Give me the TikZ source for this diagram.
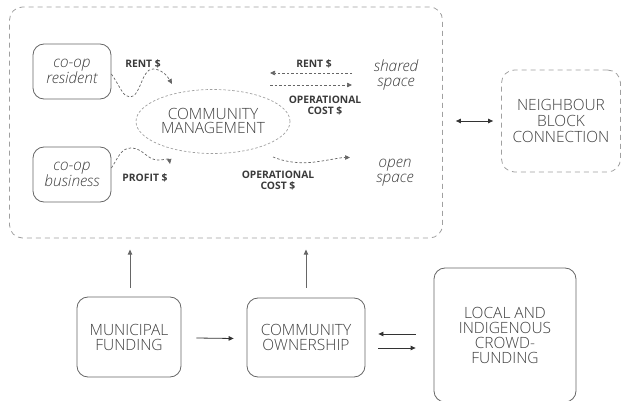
\documentclass[tikz,border=0pt]{standalone}
\usepackage{fontspec}
\setmainfont{Open Sans}[UprightFont=* Light, ItalicFont=* Light Italic, BoldFont=* Bold]
\usetikzlibrary{arrows.meta,shapes.geometric}
\definecolor{ink}{HTML}{3E3E3E}
\definecolor{labelink}{HTML}{3A3A3A}
\definecolor{edge}{HTML}{666666}
\definecolor{dashedge}{HTML}{A0A0A0}
\tikzset{
  solidbox/.style={draw=edge, line width=0.8pt, rounded corners=11pt, align=center,
    text=ink, font=\fontsize{15.5}{15}\selectfont, inner sep=0pt},
  itbox/.style={solidbox, font=\fontsize{15.5}{14}\selectfont\itshape},
  dashbox/.style={draw=dashedge, line width=0.8pt, dash pattern=on 5pt off 4pt,
    rounded corners=13pt},
  bigtext/.style={text=ink, align=center, font=\fontsize{15.5}{15}\selectfont, inner sep=0pt},
  spacetext/.style={text=ink, align=center, font=\fontsize{15.5}{15}\selectfont\itshape, inner sep=0pt},
  money/.style={text=labelink, align=center, font=\fontsize{10.3}{11}\selectfont\bfseries, inner sep=0pt},
  flow/.style={draw=edge, line width=0.7pt, dash pattern=on 2.5pt off 2pt,
    -{Triangle[length=5pt,width=4.5pt]}},
  link/.style={draw=black!80, line width=0.8pt, -{Triangle[length=5pt,width=4.5pt]}},
  uplink/.style={draw=edge, line width=0.8pt, -{Triangle[length=5pt,width=4.5pt]}},
}
\begin{document}
\begin{tikzpicture}[x=1pt,y=-1pt]
\useasboundingbox (0,0) rectangle (622,401);

% community block outline
\node[dashbox, minimum width=433pt, minimum height=231pt] (block) at (226,122.5) {};
% neighbour block outline
\node[dashbox, minimum width=119pt, minimum height=102pt, align=center, text=ink,
  font=\fontsize{15.5}{16}\selectfont] (neigh) at (561,121) {NEIGHBOUR\\BLOCK\\CONNECTION};

% members of the co-op
\node[itbox, minimum width=78pt, minimum height=55pt] (res) at (72,71.5) {co-op\\resident};
\node[itbox, minimum width=78pt, minimum height=55pt] (bus) at (72,174.5) {co-op\\business};

% community management
\node[draw=dashedge, line width=0.7pt, dash pattern=on 2.5pt off 2pt, ellipse,
  minimum width=154pt, minimum height=64pt, bigtext] (mgmt) at (213,121.5) {};
\node[bigtext, font=\fontsize{15.5}{14}\selectfont] (mgmttext) at (213,121) {COMMUNITY\\MANAGEMENT};

% spaces
\node[spacetext] (shared) at (396,75) {shared\\space};
\node[spacetext] (open) at (395,172.5) {open\\space};

% money labels
\node[money] (rentres) at (143,64) {RENT \$};
\node[money] (profit) at (145,178) {PROFIT \$};
\node[money] (rentsh) at (314,64) {RENT \$};
\node[money] (opsh) at (325,105.5) {OPERATIONAL\\COST \$};
\node[money] (opop) at (278,181) {OPERATIONAL\\COST \$};

% money flows
\coordinate (resend) at (172,84);
\coordinate (busend) at (170,164);
\coordinate (shR) at (352,73);
\coordinate (shL) at (270,73);
\coordinate (shL2) at (270,85);
\coordinate (shR2) at (352,85);
\coordinate (opstart) at (273,157);
\coordinate (opend) at (350,157.5);

\draw[flow] ([yshift=-2.5pt]res.east) .. controls (121,88) and (123,97) .. (130,97)
  .. controls (141,97) and (141,69) .. (153,69) .. controls (162,69) and (168,77) .. (resend);
\draw[flow] ([yshift=6.5pt]bus.east) .. controls (118,158) and (121,148) .. (131,148)
  .. controls (143,148) and (147,160) .. (158,160) .. controls (165,160) and (169,158) .. (busend);
\draw[flow] (shR) -- (shL);
\draw[flow] (shL2) -- (shR2);
\draw[flow] (opstart) .. controls (285,162) and (300,164) .. (315,162)
  .. controls (330,160) and (340,157.5) .. (opend);

% neighbour connection
\draw[link, {Triangle[length=5pt,width=4.5pt]}-{Triangle[length=5pt,width=4.5pt]}]
  ([xshift=13pt]block.east |- neigh.west) -- ([xshift=-8pt]neigh.west);

% funding and ownership
\node[solidbox, minimum width=104pt, minimum height=80pt] (mun) at (129,337) {MUNICIPAL\\FUNDING};
\node[solidbox, minimum width=118pt, minimum height=79pt] (own) at (306,337.5) {COMMUNITY\\OWNERSHIP};
\node[solidbox, minimum width=142pt, minimum height=134pt] (local) at (505,335) {LOCAL AND\\INDIGENOUS\\CROWD-\\FUNDING};

\draw[link] ([xshift=15pt,yshift=-1pt]mun.east) -- ([xshift=-13pt,yshift=-1pt]own.west);
\draw[link] ([xshift=-18pt,yshift=3.5pt]local.west |- own.east) -- ([xshift=13pt,yshift=3.5pt]own.east);
\draw[link] ([xshift=13pt,yshift=-10.5pt]own.east) -- ([xshift=-18pt,yshift=-10.5pt]local.west |- own.east);

\draw[uplink] ([xshift=1pt,yshift=9pt]mun.north) -- ([xshift=1pt,yshift=47pt]mun.north);
\draw[uplink] ([yshift=10pt]own.north) -- ([yshift=48pt]own.north);
\end{tikzpicture}
\end{document}
